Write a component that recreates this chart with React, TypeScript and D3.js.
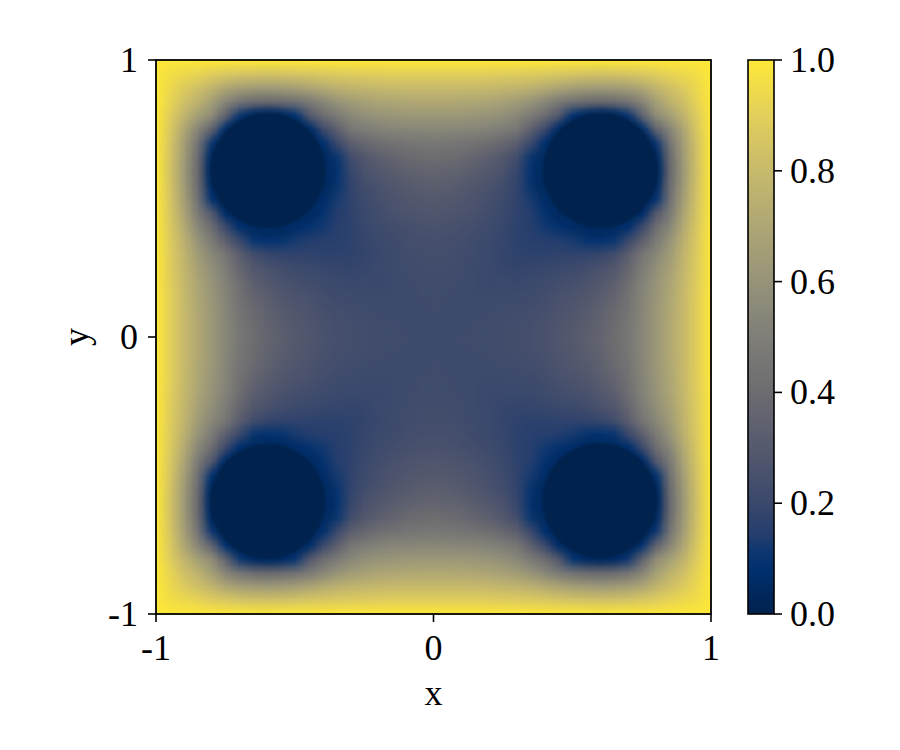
import React, { useMemo } from 'react';
import * as d3 from 'd3';

// Field values u(x, y) on a 0.05 grid over the quadrant
// 0 <= x, y <= 1 (the four quadrants of the picture are mirror images).
// Row r holds y = r*0.05, entries for x = 0, 0.05, ..., r*0.05 (x <= y; the picture is symmetric about x = y).
const quadrantRows: number[][] = [
  [0.22],
  [0.22, 0.22],
  [0.222, 0.22, 0.215],
  [0.225, 0.222, 0.218, 0.21],
  [0.227, 0.225, 0.22, 0.212, 0.2],
  [0.23, 0.228, 0.222, 0.213, 0.203, 0.19],
  [0.235, 0.232, 0.225, 0.215, 0.2, 0.185, 0.17],
  [0.245, 0.24, 0.232, 0.22, 0.205, 0.19, 0.165, 0.155],
  [0.26, 0.255, 0.245, 0.232, 0.215, 0.195, 0.165, 0.15, 0.12],
  [0.28, 0.275, 0.265, 0.25, 0.23, 0.205, 0.17, 0.14, 0.09, 0.03],
  [0.3, 0.295, 0.283, 0.265, 0.245, 0.21, 0.175, 0.125, 0.06, 0, 0],
  [0.33, 0.32, 0.305, 0.285, 0.26, 0.23, 0.18, 0.1, 0.02, 0, 0, 0],
  [0.36, 0.35, 0.34, 0.32, 0.29, 0.26, 0.19, 0.09, 0.01, 0, 0, 0, 0],
  [0.41, 0.4, 0.385, 0.36, 0.33, 0.29, 0.23, 0.11, 0.03, 0, 0, 0, 0, 0],
  [0.46, 0.455, 0.445, 0.43, 0.41, 0.37, 0.32, 0.2, 0.08, 0, 0, 0, 0, 0, 0],
  [0.54, 0.54, 0.535, 0.53, 0.515, 0.49, 0.45, 0.33, 0.2, 0.06, 0, 0, 0, 0, 0, 0.1],
  [0.62, 0.62, 0.62, 0.61, 0.6, 0.58, 0.54, 0.48, 0.4, 0.28, 0.1, 0.04, 0.02, 0.04, 0.12, 0.34, 0.56],
  [0.71, 0.71, 0.705, 0.7, 0.69, 0.67, 0.64, 0.6, 0.54, 0.47, 0.42, 0.39, 0.38, 0.39, 0.44, 0.53, 0.66, 0.76],
  [0.8, 0.8, 0.8, 0.795, 0.79, 0.78, 0.77, 0.75, 0.72, 0.69, 0.66, 0.64, 0.63, 0.64, 0.66, 0.7, 0.77, 0.83, 0.88],
  [0.9, 0.9, 0.9, 0.9, 0.895, 0.89, 0.885, 0.88, 0.87, 0.86, 0.85, 0.845, 0.84, 0.845, 0.85, 0.87, 0.89, 0.92, 0.94, 0.96],
  [1, 1, 1, 1, 1, 1, 1, 1, 1, 1, 1, 1, 1, 1, 1, 1, 1, 1, 1, 1, 1],
];

// The four zero-valued disks (centres and radius)
const diskX = [-0.597, 0.602, -0.598, 0.6];
const diskY = [0.602, 0.602, -0.593, -0.59];
const diskRadius = 0.208;

// Colour map (cividis) anchor colours
const cmapPositions = [0, 0.04, 0.08, 0.11, 0.14, 0.2, 0.3, 0.4, 0.5, 0.6, 0.7, 0.8, 0.9, 1.0];
const cmapColors = [
  '#00224e', '#00285d', '#00306e', '#0a3670', '#233d6e', '#3a486c', '#55596d',
  '#6c6c70', '#7f7e78', '#969379', '#aea674', '#c7ba6c', '#e2cf5b', '#fee838',
];

const gridStep = 0.05;
const xTicks = [-1, 0, 1];
const yTicks = [-1, 0, 1];
const colorbarTicks = [0, 0.2, 0.4, 0.6, 0.8, 1.0];
const xLabel = 'x';
const yLabel = 'y';

const W = 900;
const H = 750;
const plot = { left: 156, right: 711, top: 60, bottom: 614 };
const cbar = { left: 748, right: 774, top: 60, bottom: 614 };
const FONT = "'Liberation Serif', 'Times New Roman', serif";
const FS = 36;

const half = quadrantRows.length - 1; // 20
const nCells = 2 * half + 1; // 41

function valueAt(ix: number, iy: number): number {
  const a = Math.abs(ix - half);
  const b = Math.abs(iy - half);
  const r = Math.max(a, b);
  const c = Math.min(a, b);
  return quadrantRows[r][c];
}

export default function App() {
  const xs = d3.scaleLinear().domain([-1, 1]).range([plot.left, plot.right]);
  const ys = d3.scaleLinear().domain([-1, 1]).range([plot.bottom, plot.top]);
  const color = d3
    .scaleLinear<string>()
    .domain(cmapPositions)
    .range(cmapColors)
    .interpolate(d3.interpolateRgb)
    .clamp(true);
  const cs = d3.scaleLinear().domain([0, 1]).range([cbar.bottom, cbar.top]);

  const imgUrl = useMemo(() => {
    const canvas = document.createElement('canvas');
    canvas.width = nCells;
    canvas.height = nCells;
    const ctx = canvas.getContext('2d')!;
    const img = ctx.createImageData(nCells, nCells);
    for (let row = 0; row < nCells; row++) {
      const iy = nCells - 1 - row; // row 0 is the top (y = 1)
      for (let ix = 0; ix < nCells; ix++) {
        const c = d3.rgb(color(valueAt(ix, iy)));
        const k = (row * nCells + ix) * 4;
        img.data[k] = c.r;
        img.data[k + 1] = c.g;
        img.data[k + 2] = c.b;
        img.data[k + 3] = 255;
      }
    }
    ctx.putImageData(img, 0, 0);
    return canvas.toDataURL();
  }, []);

  const ext = 1 + gridStep / 2;
  const imgX = xs(-ext);
  const imgY = ys(ext);
  const imgW = xs(ext) - xs(-ext);
  const imgH = ys(-ext) - ys(ext);
  const rPx = xs(diskRadius) - xs(0);

  const gradStops = d3.range(0, 1.0001, 0.02);

  return (
    <svg width={W} height={H} style={{ position: 'absolute', left: 0, top: 0, background: '#fff' }}>
      <defs>
        <clipPath id="plotClip">
          <rect x={plot.left} y={plot.top} width={plot.right - plot.left} height={plot.bottom - plot.top} />
        </clipPath>
        <linearGradient id="cbGrad" x1="0" y1="1" x2="0" y2="0">
          {gradStops.map((t) => (
            <stop key={t} offset={`${t * 100}%`} stopColor={color(t)} />
          ))}
        </linearGradient>
        <filter id="ringBlur" x="-30%" y="-30%" width="160%" height="160%">
          <feGaussianBlur stdDeviation={2} />
        </filter>
        <filter id="coreBlur" x="-20%" y="-20%" width="140%" height="140%">
          <feGaussianBlur stdDeviation={1.6} />
        </filter>
      </defs>

      <g clipPath="url(#plotClip)">
        <image
          href={imgUrl}
          x={imgX}
          y={imgY}
          width={imgW}
          height={imgH}
          preserveAspectRatio="none"
          style={{ imageRendering: 'auto' }}
        />
        {diskX.map((dx, i) => (
          <circle
            key={`ring${i}`}
            cx={xs(dx)}
            cy={ys(diskY[i])}
            r={rPx + 2}
            fill="none"
            stroke={color(0.085)}
            strokeWidth={4}
            opacity={0.7}
            filter="url(#ringBlur)"
          />
        ))}
        {diskX.map((dx, i) => (
          <circle
            key={`disk${i}`}
            cx={xs(dx)}
            cy={ys(diskY[i])}
            r={rPx}
            fill={color(0)}
            filter="url(#coreBlur)"
          />
        ))}
      </g>
      <rect
        x={plot.left}
        y={plot.top}
        width={plot.right - plot.left}
        height={plot.bottom - plot.top}
        fill="none"
        stroke="#000"
        strokeWidth={1.8}
      />

      {xTicks.map((t) => (
        <g key={`xt${t}`}>
          <line x1={xs(t)} x2={xs(t)} y1={plot.bottom} y2={plot.bottom + 8} stroke="#000" strokeWidth={1.6} />
          <text x={xs(t)} y={plot.bottom + 46} textAnchor="middle" fontFamily={FONT} fontSize={FS} fill="#000">
            {t < 0 ? `-${Math.abs(t)}` : `${t}`}
          </text>
        </g>
      ))}
      {yTicks.map((t) => (
        <g key={`yt${t}`}>
          <line x1={plot.left - 8} x2={plot.left} y1={ys(t)} y2={ys(t)} stroke="#000" strokeWidth={1.6} />
          <text x={plot.left - 18} y={ys(t) + 12} textAnchor="end" fontFamily={FONT} fontSize={FS} fill="#000">
            {t < 0 ? `-${Math.abs(t)}` : `${t}`}
          </text>
        </g>
      ))}
      <text x={(plot.left + plot.right) / 2} y={705} textAnchor="middle" fontFamily={FONT} fontSize={FS} fill="#000">
        {xLabel}
      </text>
      <text
        x={88}
        y={(plot.top + plot.bottom) / 2}
        textAnchor="middle"
        fontFamily={FONT}
        fontSize={FS}
        fill="#000"
        transform={`rotate(-90, 88, ${(plot.top + plot.bottom) / 2})`}
      >
        {yLabel}
      </text>

      <rect
        x={cbar.left}
        y={cbar.top}
        width={cbar.right - cbar.left}
        height={cbar.bottom - cbar.top}
        fill="url(#cbGrad)"
        stroke="#000"
        strokeWidth={1.6}
      />
      {colorbarTicks.map((t) => (
        <g key={`cb${t}`}>
          <line x1={cbar.right} x2={cbar.right + 8} y1={cs(t)} y2={cs(t)} stroke="#000" strokeWidth={1.6} />
          <text x={cbar.right + 16} y={cs(t) + 12} textAnchor="start" fontFamily={FONT} fontSize={FS} fill="#000">
            {t.toFixed(1)}
          </text>
        </g>
      ))}
    </svg>
  );
}
